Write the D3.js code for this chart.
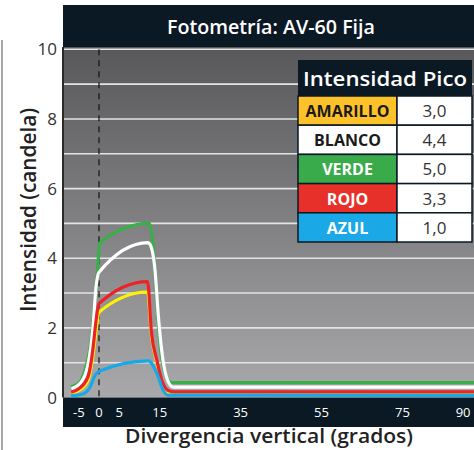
<!DOCTYPE html>
<html>
<head>
<meta charset="utf-8">
<script src="https://cdn.jsdelivr.net/npm/d3@7"></script>
<style>
  body { margin: 0; background: #fff; }
  text { font-family: "Open Sans", "DejaVu Sans", sans-serif; }
</style>
</head>
<body>
<script>
'use strict';

// degrees of vertical divergence
let degGreen  = [-6.9, -6.2, -4.7, -3.2, -2.0, -1.3, -0.6, 0.25, 12.4, 13.4, 14.3, 15.1, 16.1, 17.1, 18.0, 93];
let valGreen  = [0.30, 0.34, 0.45, 0.90, 1.60, 2.40, 3.30, 4.45, 5.00, 4.30, 2.80, 1.50, 0.80, 0.50, 0.43, 0.43];

let degWhite  = [-6.8, -4.7, -2.7, -1.5, -0.74, 0, 12.1, 12.6, 13.85, 14.7, 15.5, 16.7, 18.3, 93];
let valWhite  = [0.25, 0.40, 0.97, 2.00, 3.17, 3.60, 4.45, 4.40, 3.65, 2.30, 1.35, 0.58, 0.30, 0.30];

let degYellow = [-6.9, -5.0, -2.7, -1.5, -0.74, 0, 12.0, 13.0, 14.3, 15.5, 17.1, 18.8, 93];
let valYellow = [0.12, 0.20, 0.50, 1.20, 1.90, 2.45, 3.03, 1.75, 1.00, 0.45, 0.15, 0.10, 0.10];

let degRed    = [-6.9, -5.0, -2.7, -1.5, -0.74, 0, 12.0, 13.0, 14.3, 15.5, 17.1, 18.8, 93];
let valRed    = [0.15, 0.25, 0.60, 1.40, 2.20, 2.70, 3.33, 1.83, 1.07, 0.50, 0.20, 0.16, 0.16];

let degBlue   = [-6.9, -4.0, -2.2, -1.0, 0, 12.2, 14.3, 15.9, 17.0, 93];
let valBlue   = [0.05, 0.10, 0.30, 0.63, 0.75, 1.05, 0.70, 0.20, 0.07, 0.06];

let tableNames  = ["AMARILLO", "BLANCO", "VERDE", "ROJO", "AZUL"];
let tablePeaks  = ["3,0", "4,4", "5,0", "3,3", "1,0"];
let tableFills  = ["#fdc12a", "#ffffff", "#3aab4a", "#e8302a", "#1aa8e6"];
let tableInk    = ["#1a1a1a", "#1a1a1a", "#ffffff", "#ffffff", "#ffffff"];

let xTicks = [-5, 0, 5, 15, 35, 55, 75, 90];
let yLabelTicks = [0, 2, 4, 6, 8, 10];
let yGridTicks = d3.range(1, 11);

let W = 474, H = 450;
let plot = {left: 63, right: 474, top: 47, bottom: 397.5};
let navy = "#0b1925";

let svg = d3.select("body").append("svg")
  .attr("width", W).attr("height", H);

let x = d3.scaleLinear().domain([-8.9, 92.7]).range([plot.left, plot.right]);
let y = d3.scaleLinear().domain([0, 10]).range([plot.bottom, 49.3]);

let defs = svg.append("defs");
let grad = defs.append("linearGradient").attr("id", "bg")
  .attr("x1", 0).attr("y1", 0).attr("x2", 0).attr("y2", 1);
grad.append("stop").attr("offset", "0%").attr("stop-color", "#58585b");
grad.append("stop").attr("offset", "100%").attr("stop-color", "#a9a9ab");

// outer left border
svg.append("line").attr("x1", 2).attr("x2", 2).attr("y1", 40).attr("y2", H)
  .attr("stroke", "#888").attr("stroke-width", 1.5);

// title bar
svg.append("rect").attr("x", plot.left).attr("y", 5)
  .attr("width", plot.right - plot.left).attr("height", plot.top - 5).attr("fill", navy);
svg.append("text").attr("x", 271).attr("y", 34).attr("text-anchor", "middle")
  .attr("fill", "#fff").attr("font-size", 19).attr("font-weight", 600)
  .attr("textLength", 208).attr("lengthAdjust", "spacingAndGlyphs")
  .text("Fotometría: AV-60 Fija");

// plot background
svg.append("rect").attr("x", plot.left).attr("y", plot.top)
  .attr("width", plot.right - plot.left).attr("height", plot.bottom - plot.top)
  .attr("fill", "url(#bg)");

// gridlines
svg.append("g").selectAll("line").data(yGridTicks).enter().append("line")
  .attr("x1", plot.left).attr("x2", plot.right)
  .attr("y1", d => y(d)).attr("y2", d => y(d))
  .attr("stroke", "#e4e4e4").attr("stroke-width", 1.6);

// bottom band
svg.append("rect").attr("x", plot.left).attr("y", plot.bottom)
  .attr("width", plot.right - plot.left).attr("height", 427 - plot.bottom).attr("fill", navy);

// dashed zero line
svg.append("line").attr("x1", x(0)).attr("x2", x(0))
  .attr("y1", y(10)).attr("y2", plot.bottom)
  .attr("stroke", "#111").attr("stroke-width", 1.2).attr("stroke-dasharray", "6,5");

// left axis line
svg.append("line").attr("x1", plot.left).attr("x2", plot.left)
  .attr("y1", plot.top).attr("y2", plot.bottom)
  .attr("stroke", "#2a2a2a").attr("stroke-width", 2);

// series
let line = d3.line().x(d => x(d[0])).y(d => y(d[1])).curve(d3.curveMonotoneX);
let series = [
  {deg: degGreen, val: valGreen, color: "#38b04a"},
  {deg: degWhite, val: valWhite, color: "#ffffff"},
  {deg: degYellow, val: valYellow, color: "#fff200"},
  {deg: degRed, val: valRed, color: "#ec2227"},
  {deg: degBlue, val: valBlue, color: "#14a9e8"}
];
let clip = defs.append("clipPath").attr("id", "clip");
clip.append("rect").attr("x", plot.left + 1).attr("y", plot.top)
  .attr("width", plot.right - plot.left).attr("height", plot.bottom - plot.top + 2);

svg.append("g").attr("clip-path", "url(#clip)").selectAll("path").data(series).enter().append("path")
  .attr("d", s => line(d3.zip(s.deg, s.val)))
  .attr("fill", "none").attr("stroke", s => s.color)
  .attr("stroke-width", 3.2).attr("stroke-linejoin", "miter");

// x tick labels
svg.append("g").selectAll("text").data(xTicks).enter().append("text")
  .attr("x", d => x(d)).attr("y", 417).attr("text-anchor", "middle")
  .attr("fill", "#fff").attr("font-size", 13)
  .text(d => d);

// y tick labels
svg.append("g").selectAll("text").data(yLabelTicks).enter().append("text")
  .attr("x", 57).attr("y", d => y(d) + 6).attr("text-anchor", "end")
  .attr("fill", "#333").attr("font-size", 17)
  .text(d => d);

// axis titles
svg.append("text").attr("x", 269).attr("y", 443).attr("text-anchor", "middle")
  .attr("fill", "#222").attr("font-size", 19).attr("font-weight", 600)
  .attr("textLength", 288).attr("lengthAdjust", "spacingAndGlyphs")
  .text("Divergencia vertical (grados)");
svg.append("text").attr("transform", "translate(36,210) rotate(-90)")
  .attr("text-anchor", "middle")
  .attr("fill", "#222").attr("font-size", 21).attr("font-weight", 600)
  .attr("textLength", 204).attr("lengthAdjust", "spacingAndGlyphs")
  .text("Intensidad (candela)");

// peak intensity table
let tbl = {x: 298, y: 60, w: 174, head: 36, row: 29.2, split: 397};
let table = svg.append("g");
table.append("rect").attr("x", tbl.x).attr("y", tbl.y)
  .attr("width", tbl.w).attr("height", tbl.head).attr("fill", navy);
table.append("text").attr("x", tbl.x + tbl.w / 2).attr("y", tbl.y + 26)
  .attr("text-anchor", "middle").attr("fill", "#fff").attr("font-size", 20)
  .attr("font-weight", 600)
  .attr("textLength", 164).attr("lengthAdjust", "spacingAndGlyphs")
  .text("Intensidad Pico");

let rows = table.selectAll("g.row").data(tableNames).enter().append("g")
  .attr("transform", (d, i) => `translate(0,${tbl.y + tbl.head + i * tbl.row})`);
rows.append("rect").attr("x", tbl.x).attr("y", 0)
  .attr("width", tbl.split - tbl.x).attr("height", tbl.row)
  .attr("fill", (d, i) => tableFills[i]).attr("stroke", navy).attr("stroke-width", 1.5);
rows.append("rect").attr("x", tbl.split).attr("y", 0)
  .attr("width", tbl.x + tbl.w - tbl.split).attr("height", tbl.row)
  .attr("fill", "#fff").attr("stroke", navy).attr("stroke-width", 1.5);
rows.append("text").attr("x", (tbl.x + tbl.split) / 2).attr("y", 21)
  .attr("text-anchor", "middle").attr("font-size", 16).attr("font-weight", 700)
  .attr("fill", (d, i) => tableInk[i]).text(d => d);
rows.append("text").attr("x", (tbl.split + tbl.x + tbl.w) / 2).attr("y", 21)
  .attr("text-anchor", "middle").attr("font-size", 17)
  .attr("fill", "#333").text((d, i) => tablePeaks[i]);
</script>
</body>
</html>
